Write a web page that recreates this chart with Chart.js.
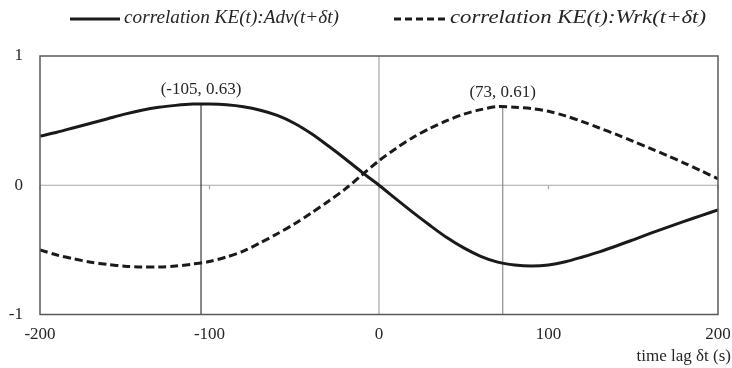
<!DOCTYPE html>
<html>
<head>
<meta charset="utf-8">
<script src="https://cdn.jsdelivr.net/npm/chart.js@4.4.1/dist/chart.umd.min.js"></script>
<style>
    html, body { margin: 0; padding: 0; background: #fff; }
</style>
</head>
<body>
<canvas id="chart" width="732" height="368"></canvas>
<script>
// time lag (s) and the two correlation curves
const lags = [-200, -190, -180, -170, -160, -150, -140, -130, -120, -110, -100,
              -90, -80, -70, -60, -50, -40, -30, -20, -10, 0,
              10, 20, 30, 40, 50, 60, 70, 80, 90, 100,
              110, 120, 130, 140, 150, 160, 170, 180, 190, 200];
const advCorr = [0.38, 0.41, 0.445, 0.48, 0.515, 0.55, 0.58, 0.603, 0.618, 0.628, 0.628,
                 0.622, 0.607, 0.58, 0.54, 0.48, 0.40, 0.305, 0.205, 0.10, 0.0,
                 -0.105, -0.21, -0.31, -0.405, -0.485, -0.55, -0.595, -0.617, -0.625, -0.617,
                 -0.592, -0.555, -0.515, -0.47, -0.422, -0.373, -0.326, -0.28, -0.235, -0.19];
const wrkCorr = [-0.50, -0.54, -0.57, -0.595, -0.613, -0.626, -0.632, -0.632, -0.625, -0.61, -0.59,
                 -0.555, -0.51, -0.445, -0.375, -0.30, -0.215, -0.125, -0.03, 0.08, 0.19,
                 0.285, 0.37, 0.44, 0.50, 0.55, 0.585, 0.609, 0.604, 0.594, 0.572,
                 0.537, 0.492, 0.443, 0.393, 0.34, 0.285, 0.23, 0.172, 0.112, 0.05];

const seriesNames = ['correlation KE(t):Adv(t+\u03b4t)', 'correlation KE(t):Wrk(t+\u03b4t)'];

// marked peaks
const peakLags = [-105, 73];
const peakValues = [0.63, 0.61];
const peakLabels = ['(-105, 0.63)', '(73, 0.61)'];

const xTicks = [-200, -100, 0, 100, 200];
const yTicks = [-1, 0, 1];
const xTitle = 'time lag \u03b4t (s)';

const SERIF = '"Liberation Serif", "Times New Roman", serif';
const INK = '#1a1a1a';

// Axes, peak drop lines, annotations and legend
const decorations = {
    id: 'decorations',
    beforeDatasetsDraw(chart) {
        const { ctx, chartArea: a, scales: { x, y } } = chart;
        const y0 = y.getPixelForValue(0);
        const x0 = x.getPixelForValue(0);
        ctx.save();

        // zero lines
        ctx.strokeStyle = '#a6a6a6';
        ctx.lineWidth = 1.2;
        ctx.beginPath();
        ctx.moveTo(a.left, y0);
        ctx.lineTo(a.right, y0);
        ctx.moveTo(x0, a.top);
        ctx.lineTo(x0, a.bottom);
        ctx.stroke();

        // small tick marks on the zero axis
        ctx.beginPath();
        xTicks.forEach(v => {
            const px = x.getPixelForValue(v);
            ctx.moveTo(px, y0);
            ctx.lineTo(px, y0 + 4);
        });
        ctx.stroke();

        // drop lines under the peaks
        const dropColors = ['#3a3a3a', '#8c8c8c'];
        peakLags.forEach((lag, i) => {
            const px = x.getPixelForValue(lag);
            ctx.strokeStyle = dropColors[i];
            ctx.lineWidth = 1.2;
            ctx.beginPath();
            ctx.moveTo(px, y.getPixelForValue(peakValues[i]));
            ctx.lineTo(px, a.bottom);
            ctx.stroke();
        });
        ctx.restore();
    },
    afterDraw(chart) {
        const { ctx, chartArea: a, scales: { x, y } } = chart;
        ctx.save();

        // plot border
        ctx.strokeStyle = '#595959';
        ctx.lineWidth = 1.5;
        ctx.strokeRect(a.left, a.top, a.right - a.left, a.bottom - a.top);

        // peak annotations
        ctx.fillStyle = '#262626';
        ctx.font = '17px ' + SERIF;
        ctx.textAlign = 'center';
        ctx.textBaseline = 'middle';
        peakLags.forEach((lag, i) => {
            ctx.fillText(peakLabels[i], x.getPixelForValue(lag), y.getPixelForValue(peakValues[i]) - 14);
        });

        // x axis title
        ctx.textAlign = 'right';
        ctx.fillText(xTitle, 731, 357);

        // legend (text stretched to the widths seen in the figure)
        const legendY = 19;
        const items = [
            { x1: 70, x2: 120, dash: [], textWidth: 215 },
            { x1: 394, x2: 446, dash: [7, 4], textWidth: 256 }
        ];
        ctx.font = 'italic 19px ' + SERIF;
        ctx.textAlign = 'left';
        items.forEach((it, i) => {
            ctx.strokeStyle = INK;
            ctx.lineWidth = 3;
            ctx.setLineDash(it.dash);
            ctx.beginPath();
            ctx.moveTo(it.x1, legendY);
            ctx.lineTo(it.x2, legendY);
            ctx.stroke();
            ctx.setLineDash([]);
            ctx.fillStyle = '#262626';
            const w = ctx.measureText(seriesNames[i]).width;
            ctx.save();
            ctx.translate(it.x2 + 4, legendY - 1);
            ctx.scale(it.textWidth / w, 1);
            ctx.fillText(seriesNames[i], 0, 0);
            ctx.restore();
        });
        ctx.restore();
    }
};

const toPoints = values => lags.map((lag, i) => ({ x: lag, y: values[i] }));

new Chart(document.getElementById('chart'), {
    type: 'line',
    data: {
        datasets: [
            {
                label: seriesNames[0],
                data: toPoints(advCorr),
                borderColor: INK,
                borderWidth: 3,
                pointRadius: 0,
                tension: 0.3,
                fill: false
            },
            {
                label: seriesNames[1],
                data: toPoints(wrkCorr),
                borderColor: INK,
                borderWidth: 3,
                borderDash: [8, 4],
                pointRadius: 0,
                tension: 0.3,
                fill: false
            }
        ]
    },
    options: {
        responsive: false,
        animation: false,
        devicePixelRatio: 1,
        layout: {
            padding: { top: 56, right: 0, bottom: 0, left: 0 }
        },
        plugins: {
            legend: { display: false },
            tooltip: { enabled: false }
        },
        scales: {
            x: {
                type: 'linear',
                min: -200,
                max: 200,
                afterBuildTicks: scale => { scale.ticks = xTicks.map(v => ({ value: v })); },
                afterFit: scale => {
                    scale.height = 53.5;
                    scale.paddingLeft = 0;
                    scale.paddingRight = 14;
                },
                grid: { display: false, drawTicks: false },
                border: { display: false },
                ticks: {
                    padding: 10,
                    color: '#262626',
                    font: { family: SERIF, size: 17 },
                    maxRotation: 0
                }
            },
            y: {
                type: 'linear',
                min: -1,
                max: 1,
                afterBuildTicks: scale => { scale.ticks = yTicks.map(v => ({ value: v })); },
                afterFit: scale => { scale.width = 40; },
                grid: { display: false, drawTicks: false },
                border: { display: false },
                ticks: {
                    padding: 17,
                    color: '#262626',
                    font: { family: SERIF, size: 17 }
                }
            }
        }
    },
    plugins: [decorations]
});
</script>
</body>
</html>
